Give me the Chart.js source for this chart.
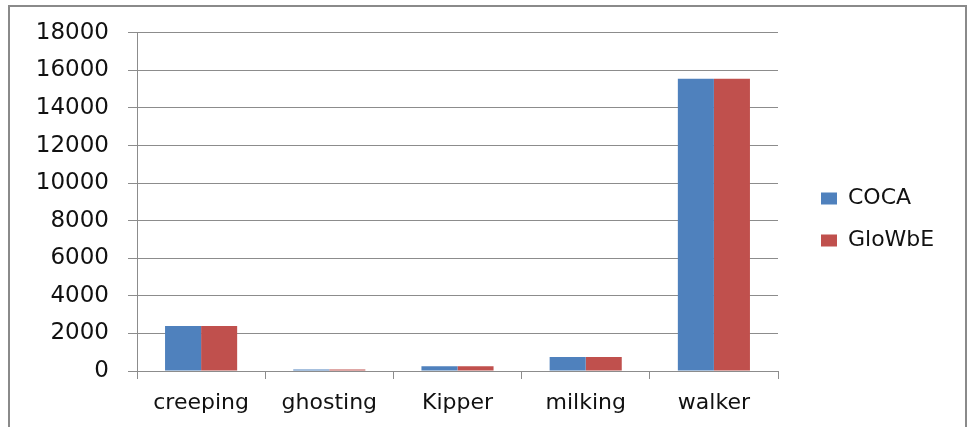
<!DOCTYPE html>
<html>
<head>
<meta charset="utf-8">
<title>COCA vs GloWbE</title>
<script src="https://cdn.jsdelivr.net/npm/chart.js@4.4.0/dist/chart.umd.min.js"></script>
<style>
  html, body { margin: 0; padding: 0; background: #fff; }
  #wrap { position: relative; width: 968px; height: 427px; overflow: hidden; }
  #frame {
    position: absolute; left: 8px; top: 5px; width: 959px; height: 440px;
    border: 2px solid #8a8a8a; box-sizing: border-box;
  }
  #chart { position: absolute; left: 0; top: 0; }
</style>
</head>
<body>
<div id="wrap">
  <div id="frame"></div>
  <canvas id="chart" width="968" height="427"></canvas>
</div>
<script>
const words = ['creeping', 'ghosting', 'Kipper', 'milking', 'walker'];
const cocaCounts = [2390, 75, 250, 745, 15560];
const glowbeCounts = [2390, 75, 250, 745, 15560];
const yTicks = [0, 2000, 4000, 6000, 8000, 10000, 12000, 14000, 16000, 18000];

const gridGray = '#8c8c8c';
const textColor = '#111';
const legendPad = 20;

// legend sits a bit further right and higher than Chart.js puts it
const legendNudge = {
  id: 'legendNudge',
  afterLayout(chart) {
    const lg = chart.legend;
    const dx = 821 - legendPad - lg.left;
    lg.left += dx;
    lg.right += dx;
    lg.top -= 10;
    lg.bottom -= 10;
  }
};

const chart = new Chart(document.getElementById('chart'), {
  type: 'bar',
  data: {
    labels: words,
    datasets: [
      { label: 'COCA', data: cocaCounts, backgroundColor: '#4f81bd' },
      { label: 'GloWbE', data: glowbeCounts, backgroundColor: '#c0504d' }
    ]
  },
  options: {
    responsive: false,
    animation: false,
    events: [],
    layout: { padding: { top: 32, right: 60, bottom: 0, left: 0 } },
    datasets: { bar: { barPercentage: 1, categoryPercentage: 0.5625 } },
    plugins: {
      tooltip: { enabled: false },
      legend: {
        position: 'right',
        labels: {
          boxWidth: 16,
          boxHeight: 12,
          padding: legendPad,
          color: textColor,
          font: { family: 'DejaVu Sans', size: 22 }
        }
      }
    },
    scales: {
      x: {
        afterFit: (scale) => { scale.height = 56; },
        grid: {
          offset: true,
          drawOnChartArea: false,
          drawTicks: true,
          tickLength: 8,
          color: gridGray
        },
        border: { color: gridGray },
        ticks: {
          color: textColor,
          padding: 11,
          font: { family: 'DejaVu Sans', size: 22 }
        }
      },
      y: {
        min: 0,
        max: 18000,
        afterFit: (scale) => { scale.width = 137; },
        afterBuildTicks: (scale) => { scale.ticks = yTicks.map(v => ({ value: v })); },
        grid: { color: gridGray, tickLength: 9 },
        border: { color: gridGray },
        ticks: {
          color: textColor,
          padding: 19,
          callback: (v) => String(v),
          font: { family: 'DejaVu Sans', size: 23 }
        }
      }
    }
  },
  plugins: [legendNudge]
});

// pin the plot's right edge
const overshoot = chart.chartArea.right - 778;
chart.options.layout.padding.right += overshoot;
chart.update();
</script>
</body>
</html>
